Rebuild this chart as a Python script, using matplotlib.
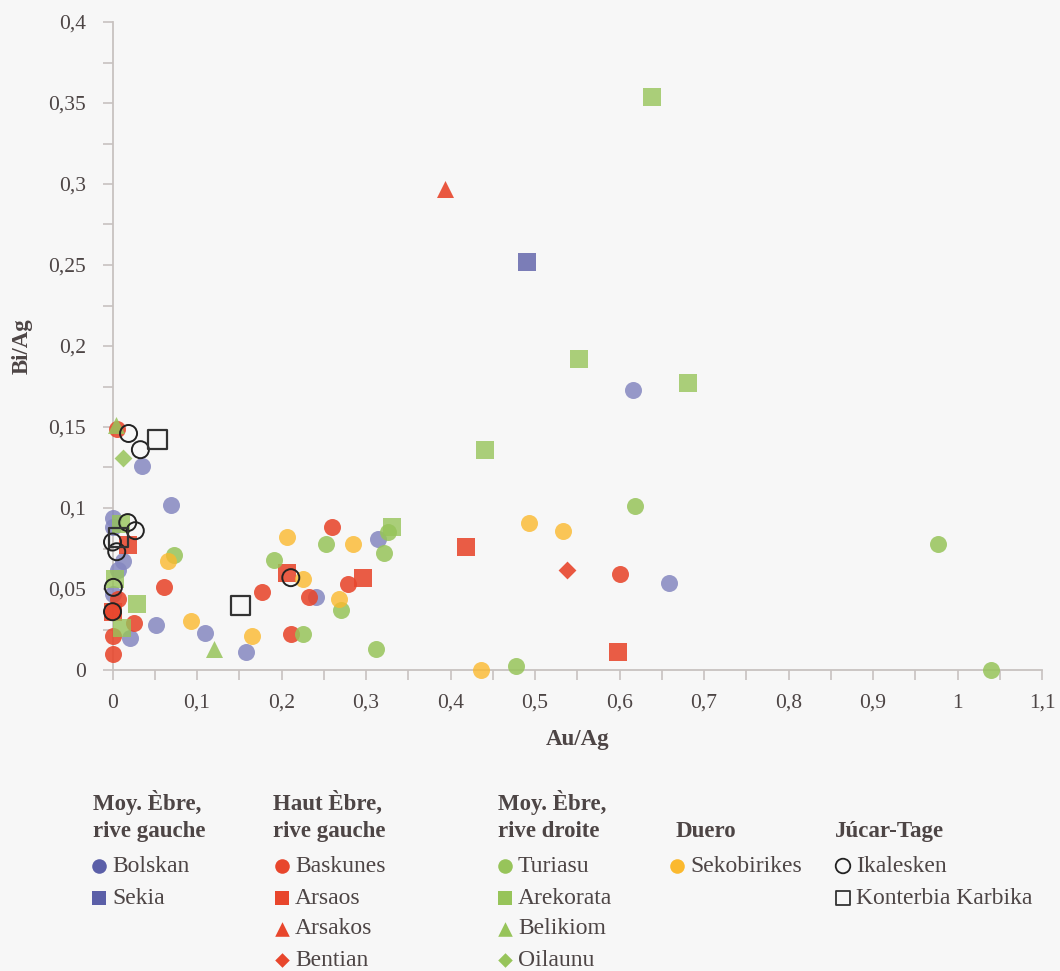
import numpy as np
import matplotlib as mpl
mpl.use('Agg')
import matplotlib.pyplot as plt
from matplotlib.ticker import MultipleLocator, FuncFormatter

plt.rcParams['font.family'] = ['Liberation Serif', 'DejaVu Serif']

TXT = '#4d4545'
BLUE = '#8587c0'
RED = '#e8462c'
GREEN = '#97c45a'
YELLOW = '#fbb92e'

# Moy. Ebre, rive gauche
bolskan_x = [0.616, 0.659, 0.069, 0.035, 0.314, 0.241, 0.051, 0.109, 0.158,
             0.0, 0.0, 0.012, 0.006, 0.0, 0.021]
bolskan_y = [0.173, 0.054, 0.102, 0.126, 0.081, 0.045, 0.028, 0.023, 0.011,
             0.094, 0.088, 0.067, 0.062, 0.047, 0.020]
sekia_x = [0.491]
sekia_y = [0.252]

# Haut Ebre, rive gauche
baskunes_x = [0.260, 0.600, 0.279, 0.232, 0.177, 0.061, 0.211, 0.026, 0.006,
              0.001, 0.0, 0.0, 0.005]
baskunes_y = [0.088, 0.059, 0.053, 0.045, 0.048, 0.051, 0.022, 0.029, 0.044,
              0.036, 0.021, 0.010, 0.149]
arsaos_x = [0.418, 0.297, 0.598, 0.206, 0.018, 0.0]
arsaos_y = [0.076, 0.057, 0.011, 0.060, 0.077, 0.036]
arsakos_x = [0.393]
arsakos_y = [0.297]
bentian_x = [0.538]
bentian_y = [0.062]

# Moy. Ebre, rive droite
turiasu_x = [0.977, 1.040, 0.618, 0.477, 0.253, 0.321, 0.326, 0.271, 0.225,
             0.312, 0.073, 0.191]
turiasu_y = [0.078, 0.0, 0.101, 0.0025, 0.078, 0.072, 0.085, 0.037, 0.022,
             0.013, 0.071, 0.068]
arekorata_x = [0.638, 0.552, 0.681, 0.441, 0.331, 0.029, 0.011, 0.003, 0.010]
arekorata_y = [0.354, 0.192, 0.177, 0.136, 0.088, 0.041, 0.026, 0.056, 0.090]
belikiom_x = [0.120, 0.004]
belikiom_y = [0.013, 0.151]
oilaunu_x = [0.012]
oilaunu_y = [0.131]

# Duero
sekobirikes_x = [0.493, 0.533, 0.436, 0.207, 0.285, 0.225, 0.268, 0.066,
                 0.093, 0.165]
sekobirikes_y = [0.091, 0.086, 0.0, 0.082, 0.078, 0.056, 0.044, 0.067,
                 0.030, 0.021]

# Jucar-Tage
ikalesken_x = [0.019, 0.033, 0.018, 0.027, 0.0, 0.005, 0.001, 0.0, 0.211]
ikalesken_y = [0.146, 0.136, 0.091, 0.086, 0.079, 0.073, 0.051, 0.036, 0.057]
konterbia_x = [0.053, 0.007, 0.152]
konterbia_y = [0.142, 0.082, 0.040]

fig = plt.figure(figsize=(10.6, 9.71), dpi=100)
fig.patch.set_facecolor('#f7f7f7')
ax = fig.add_axes([112.5 / 1060, 1 - 670 / 971, (1042 - 112.5) / 1060, (670 - 22) / 971])
ax.set_facecolor('#f7f7f7')

S = 150
series = [
    (bolskan_x, bolskan_y, BLUE, 'o', 0.85),
    (sekia_x, sekia_y, '#7476b4', 's', 0.95),
    (baskunes_x, baskunes_y, RED, 'o', 0.88),
    (arsaos_x, arsaos_y, RED, 's', 0.88),
    (arsakos_x, arsakos_y, RED, '^', 0.9),
    (bentian_x, bentian_y, RED, 'D', 0.9),
    (turiasu_x, turiasu_y, GREEN, 'o', 0.85),
    (arekorata_x, arekorata_y, GREEN, 's', 0.8),
    (belikiom_x, belikiom_y, GREEN, '^', 0.85),
    (oilaunu_x, oilaunu_y, GREEN, 'D', 0.85),
    (sekobirikes_x, sekobirikes_y, YELLOW, 'o', 0.8),
]
for xs, ys, c, m, a in series:
    size = S * 0.55 if m == 'D' else S
    ax.scatter(xs, ys, s=size, c=c, marker=m, alpha=a, linewidths=0, zorder=3)

ax.scatter(ikalesken_x, ikalesken_y, s=S, marker='o', facecolors='none',
           edgecolors='#222222', linewidths=1.4, zorder=4)
ax.scatter(konterbia_x, konterbia_y, s=S * 1.25, marker='s', facecolors='none',
           edgecolors='#333333', linewidths=1.6, zorder=4)

ax.set_xlim(0, 1.1)
ax.set_ylim(0, 0.4)
for c in ax.collections:
    c.set_clip_on(False)

ax.xaxis.set_major_locator(MultipleLocator(0.1))
ax.xaxis.set_minor_locator(MultipleLocator(0.05))
ax.yaxis.set_major_locator(MultipleLocator(0.05))
ax.yaxis.set_minor_locator(MultipleLocator(0.025))

def comma(v, pos):
    s = ('%.2f' % v).rstrip('0').rstrip('.')
    return s.replace('.', ',')

ax.xaxis.set_major_formatter(FuncFormatter(comma))
ax.yaxis.set_major_formatter(FuncFormatter(comma))

for side in ['top', 'right']:
    ax.spines[side].set_visible(False)
for side in ['left', 'bottom']:
    ax.spines[side].set_color('#c8c2c0')
    ax.spines[side].set_linewidth(1.3)

ax.tick_params(which='both', direction='out', length=7, width=1.2, color='#c8c2c0',
               labelcolor=TXT, labelsize=15.5)
ax.tick_params(axis='x', pad=10)
ax.tick_params(axis='y', pad=12)

ax.set_xlabel('Au/Ag', fontsize=16.5, color=TXT, fontweight='bold', labelpad=12)
ax.set_ylabel('Bi/Ag', fontsize=16.5, color=TXT, fontweight='bold', labelpad=11)

# legend drawn in pixel coordinates
lg = fig.add_axes([0, 0, 1, 1], facecolor='none')
lg.set_xlim(0, 1060)
lg.set_ylim(971, 0)
lg.axis('off')

headers = [
    (93, 'Moy. Èbre,\nrive gauche'),
    (273, 'Haut Èbre,\nrive gauche'),
    (498, 'Moy. Èbre,\nrive droite'),
    (676, 'Duero'),
    (835, 'Júcar-Tage'),
]
for hx, h in headers:
    lg.text(hx, 842, h, fontsize=16.5, fontweight='bold', color=TXT,
            ha='left', va='bottom', linespacing=1.4)

rows = [866, 898, 929, 960]
entries = [
    (99, [('Bolskan', '#5b5fa8', 'o', True), ('Sekia', '#5b5fa8', 's', True)]),
    (282, [('Baskunes', RED, 'o', True), ('Arsaos', RED, 's', True),
           ('Arsakos', RED, '^', True), ('Bentian', RED, 'D', True)]),
    (505, [('Turiasu', GREEN, 'o', True), ('Arekorata', GREEN, 's', True),
           ('Belikiom', GREEN, '^', True), ('Oilaunu', GREEN, 'D', True)]),
    (677, [('Sekobirikes', YELLOW, 'o', True)]),
    (843, [('Ikalesken', '#222222', 'o', False),
           ('Konterbia Karbika', '#333333', 's', False)]),
]
for mx, items in entries:
    for ry, (name, c, m, filled) in zip(rows, items):
        sz = 55 if m == 'D' else 110
        if filled:
            lg.scatter([mx], [ry], s=sz, c=c, marker=m, linewidths=0)
        else:
            lg.scatter([mx], [ry], s=sz, marker=m, facecolors='none',
                       edgecolors=c, linewidths=1.3)
        lg.text(mx + 13, ry, name, fontsize=17, color=TXT, ha='left', va='center')

fig.savefig('out.png', dpi=100, facecolor=fig.get_facecolor())
